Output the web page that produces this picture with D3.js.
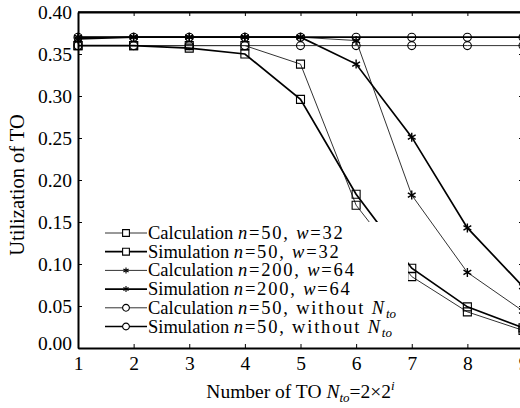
<!DOCTYPE html>
<html lang="en">
    <head>
        <meta charset="utf-8">
        <style>
            body { margin: 0; background: #fff; }
            svg text { font-family: "Liberation Serif", "Times New Roman", serif; fill: #000; }
        </style>
    </head>
    <body>
        <div id="chart"></div>
        <script src="https://cdn.jsdelivr.net/npm/d3@7/dist/d3.min.js"></script>
        <script type="text/javascript" charset="utf-8">
            // values
            var xs = [1, 2, 3, 4, 5, 6, 7, 8, 9];
            var calcSquare = [0.360, 0.360, 0.360, 0.360, 0.338, 0.170, 0.085, 0.043, 0.021];
            var simSquare  = [0.360, 0.360, 0.357, 0.350, 0.296, 0.183, 0.095, 0.049, 0.024];
            var calcStar   = [0.370, 0.370, 0.370, 0.370, 0.370, 0.366, 0.182, 0.090, 0.044];
            var simStar    = [0.368, 0.370, 0.370, 0.370, 0.370, 0.338, 0.251, 0.143, 0.073];
            var calcCircle = [0.360, 0.360, 0.360, 0.360, 0.360, 0.360, 0.360, 0.360, 0.360];
            var simCircle  = [0.370, 0.370, 0.370, 0.370, 0.370, 0.370, 0.370, 0.370, 0.370];
            var yTicks = [0, 0.05, 0.10, 0.15, 0.20, 0.25, 0.30, 0.35, 0.40];

            var series = [
                {name: "Calculation", n: "200", w: "64", values: calcStar, marker: "star", thick: false},
                {name: "Simulation", n: "200", w: "64", values: simStar, marker: "star", thick: true},
                {name: "Calculation", n: "50", w: null, values: calcCircle, marker: "circle", thick: false},
                {name: "Simulation", n: "50", w: null, values: simCircle, marker: "circle", thick: true},
                {name: "Calculation", n: "50", w: "32", values: calcSquare, marker: "square", thick: false},
                {name: "Simulation", n: "50", w: "32", values: simSquare, marker: "square", thick: true}
            ];
            var legendOrder = [4, 5, 0, 1, 2, 3];

            var W = 520, H = 408;
            // plot box (right edge sits just past the picture)
            var pL = 78, pR = 523, pT = 12, pB = 348;

            var x = d3.scaleLinear().domain([1, 9]).range([pL, pR]);
            var y = d3.scaleLinear().domain([0, 0.40]).range([pB, pT]);

            var svg = d3.select("#chart").append("svg")
                .attr("width", W).attr("height", H);

            function markerPath(type, s) {
                if (type == "square") return "M" + (-s) + "," + (-s) + "h" + 2 * s + "v" + 2 * s + "h" + (-2 * s) + "Z";
                if (type == "circle") return "M" + (-s) + ",0a" + s + "," + s + " 0 1,0 " + 2 * s + ",0a" + s + "," + s + " 0 1,0 " + (-2 * s) + ",0";
                var a = s * 0.866, b = s * 0.5;
                return "M0," + (-s) + "V" + s + "M" + (-a) + "," + (-b) + "L" + a + "," + b + "M" + (-a) + "," + b + "L" + a + "," + (-b);
            }

            var line = d3.line()
                .x(function(d, i) { return x(xs[i]); })
                .y(function(d) { return y(d); });

            series.forEach(function(s) {
                var g = svg.append("g");
                g.append("path")
                    .attr("d", line(s.values))
                    .attr("fill", "none")
                    .attr("stroke", s.thick ? "#000" : "#333")
                    .attr("stroke-width", s.thick ? 1.7 : 1);
                g.selectAll("path.m")
                    .data(s.values).enter()
                    .append("path")
                    .attr("class", "m")
                    .attr("transform", function(d, i) { return "translate(" + x(xs[i]) + "," + y(d) + ")"; })
                    .attr("d", markerPath(s.marker, s.marker == "star" ? 4.5 : 4))
                    .attr("fill", "none")
                    .attr("stroke", "#000")
                    .attr("stroke-width", s.marker == "star" ? 1.4 : 1.1);
            });

            // legend, white box hides the lines under it
            var lg = svg.append("g");
            lg.append("rect")
                .attr("x", 100).attr("y", 222)
                .attr("width", 308).attr("height", 114)
                .attr("fill", "#fff");

            legendOrder.forEach(function(k, i) {
                var s = series[k];
                var cy = 233 + i * 18.7;
                lg.append("line")
                    .attr("x1", 105).attr("x2", 147)
                    .attr("y1", cy).attr("y2", cy)
                    .attr("stroke", s.thick ? "#000" : "#333")
                    .attr("stroke-width", s.thick ? 1.7 : 1);
                lg.append("path")
                    .attr("transform", "translate(126," + cy + ")")
                    .attr("d", markerPath(s.marker, s.marker == "star" ? 3 : 3.4))
                    .attr("fill", s.marker == "star" ? "none" : "#fff")
                    .attr("stroke", "#000")
                    .attr("stroke-width", 1.1);
                var t = lg.append("text")
                    .attr("x", 148).attr("y", cy + 6)
                    .attr("font-size", "18.5px");
                t.append("tspan").text(s.name + " ");
                var p = t.append("tspan").attr("letter-spacing", "1.8px");
                p.append("tspan").attr("font-style", "italic").text("n");
                p.append("tspan").text("=" + s.n + ", ");
                if (s.w) {
                    p.append("tspan").attr("font-style", "italic").text("w");
                    p.append("tspan").text("=" + s.w);
                } else {
                    p.append("tspan").text("without ");
                    p.append("tspan").attr("font-style", "italic").text("N");
                    p.append("tspan").attr("font-style", "italic").attr("font-size", "13px").attr("letter-spacing", "0").attr("dy", 4).text("to");
                }
            });

            // frame
            svg.append("line").attr("x1", pL).attr("x2", pR).attr("y1", pT).attr("y2", pT)
                .attr("stroke", "#000").attr("stroke-width", 1.3);
            svg.append("line").attr("x1", pR).attr("x2", pR).attr("y1", pT).attr("y2", pB)
                .attr("stroke", "#000").attr("stroke-width", 1.3);

            var xAxis = svg.append("g")
                .attr("transform", "translate(0," + pB + ")")
                .call(d3.axisBottom(x).tickValues(xs).tickSizeInner(-4).tickSizeOuter(0).tickPadding(8));
            var yAxis = svg.append("g")
                .attr("transform", "translate(" + pL + ",0)")
                .call(d3.axisLeft(y).tickValues(yTicks).tickFormat(d3.format(".2f")).tickSizeInner(-4).tickSizeOuter(0).tickPadding(6));
            svg.append("g")
                .attr("transform", "translate(0," + pT + ")")
                .call(d3.axisTop(x).tickValues(xs).tickSizeInner(-4).tickSizeOuter(0).tickFormat(""));
            svg.append("g")
                .attr("transform", "translate(" + pR + ",0)")
                .call(d3.axisRight(y).tickValues(yTicks).tickSizeInner(-4).tickSizeOuter(0).tickFormat(""));

            svg.selectAll(".domain").attr("stroke", "#000").attr("stroke-width", 2);
            svg.selectAll(".tick line").attr("stroke", "#000").attr("stroke-width", 1);
            xAxis.selectAll("text").attr("font-size", "19.5px");
            yAxis.selectAll("text").attr("font-size", "19.5px");
            yAxis.select(".tick text").attr("dy", "0.1em");

            // axis titles
            var xt = svg.append("text")
                .attr("x", (pL + pR) / 2).attr("y", 398)
                .attr("text-anchor", "middle")
                .attr("font-size", "19.5px");
            xt.append("tspan").text("Number of TO ");
            xt.append("tspan").attr("font-style", "italic").text("N");
            xt.append("tspan").attr("font-style", "italic").attr("font-size", "13px").attr("dy", 4).text("to");
            xt.append("tspan").attr("dy", -4).text("=2\u00d72");
            xt.append("tspan").attr("font-style", "italic").attr("font-size", "13px").attr("dy", -8).text("i");

            svg.append("text")
                .attr("transform", "translate(24,185) rotate(-90)")
                .attr("text-anchor", "middle")
                .attr("font-size", "20.5px")
                .text("Utilization of TO");
        </script>
    </body>
</html>
